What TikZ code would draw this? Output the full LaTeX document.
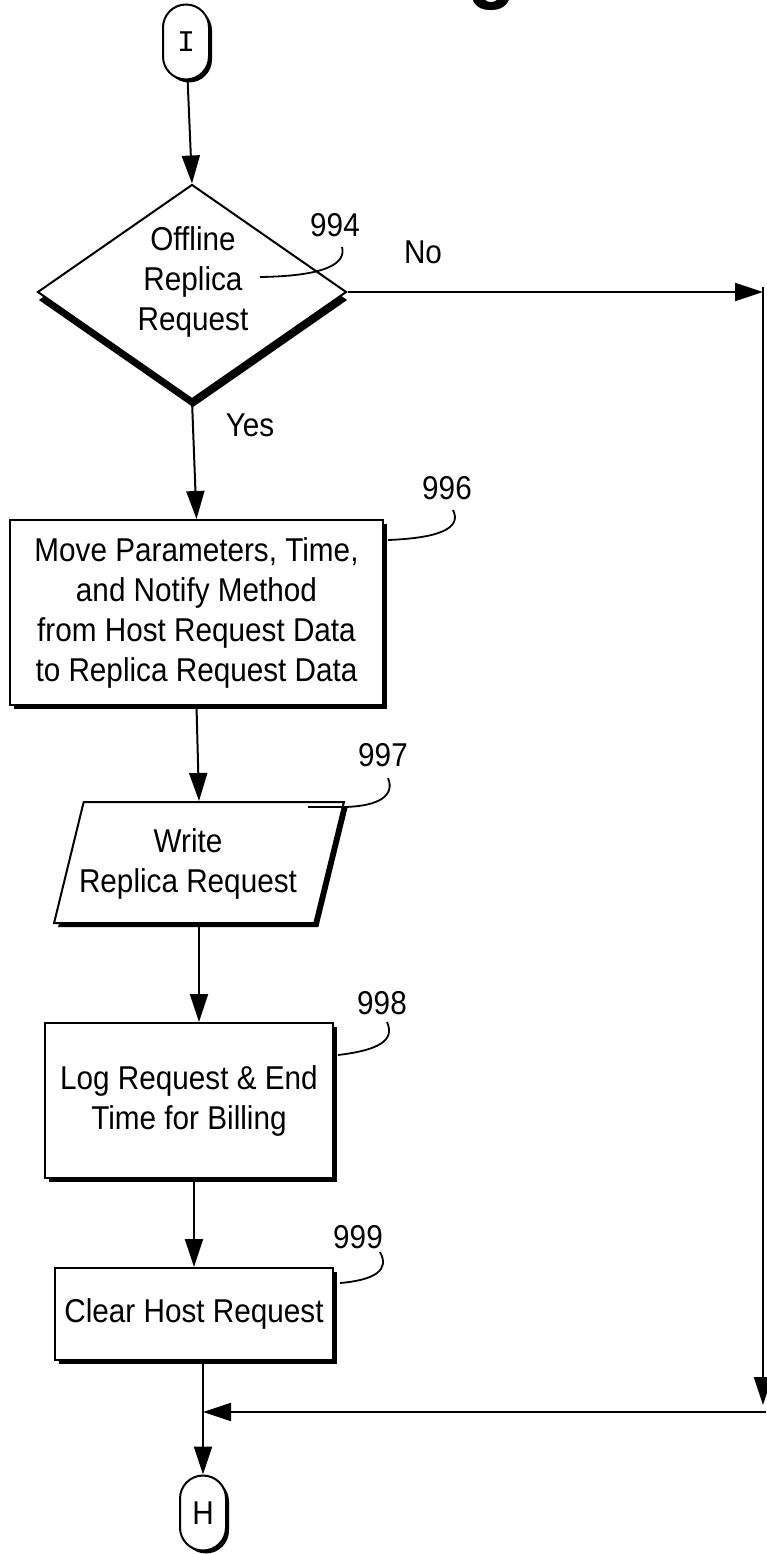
\documentclass[tikz,border=0pt]{standalone}
\usepackage{fontspec}
\setmainfont{Liberation Sans}[FakeStretch=0.9]
\newfontfamily\monof{Liberation Mono}
\usetikzlibrary{shapes.geometric,shapes.misc,shadows,arrows.meta}
\begin{document}
\begin{tikzpicture}[x=1pt,y=-1pt,
  txt/.style={font=\fontsize{33}{40}\selectfont, align=center, inner sep=0pt},
  shad/.style={drop shadow={shadow xshift=4pt,shadow yshift=-4pt,opacity=1,fill=black}},
  procbox/.style={draw, line width=2pt, fill=white, rectangle, shad, txt},
  iobox/.style={draw, line width=2pt, fill=white, trapezium, trapezium left angle=70,
     trapezium right angle=110, trapezium stretches=true, shad, txt},
  decbox/.style={draw, line width=2pt, fill=white, diamond, inner sep=0pt,
     drop shadow={shadow xshift=1pt,shadow yshift=-8pt,opacity=1,fill=black}},
  term/.style={draw, line width=2pt, fill=white, rounded corners=23pt, inner sep=0pt,
     minimum width=46pt, minimum height=75pt,
     drop shadow={shadow xshift=3pt,shadow yshift=-3pt,opacity=1,fill=black}},
  arr/.style={line width=2pt, -{Triangle[length=28pt,width=18pt]}},
  lead/.style={line width=1.8pt},
  lbl/.style={txt}
]
\useasboundingbox (0,0) rectangle (767,1554);

% cut-off title
\node[anchor=base west, inner sep=0pt, font=\fontsize{90}{90}\selectfont\bfseries] (title) at (395,-8) {Fig};

% nodes
\node[term, font=\monof\fontsize{30}{30}\selectfont] (I) at (186,42) {I};
\node[decbox, minimum width=309pt, minimum height=215pt] (d) at (192,292) {};
\node[txt] (dt) at (193,282) {Offline\\Replica\\Request};
\node[procbox, minimum width=373pt, minimum height=185pt] (b996) at (196.5,612.5)
  {Move Parameters, Time,\\and Notify Method\\from Host Request Data\\to Replica Request Data};
\node[iobox, minimum width=292pt, minimum height=121pt] (p997) at (199,862.5) {\phantom{Write}};
\node[txt] (p997t) at (188,864) {Write\\Replica Request};
\node[procbox, minimum width=288pt, minimum height=155pt] (b998) at (189,1100.5)
  {Log Request \& End\\Time for Billing};
\node[procbox, minimum width=278pt, minimum height=92pt] (b999) at (194,1314)
  {Clear Host Request};
\node[term, txt, minimum width=46pt, minimum height=75pt] (H) at (203,1513) {H};

% labels
\node[lbl] (l994) at (335,225) {994};
\node[lbl] (lno) at (423,252) {No};
\node[lbl] (lyes) at (250,425) {Yes};
\node[lbl] (l996) at (447,488) {996};
\node[lbl] (l997) at (383,755) {997};
\node[lbl] (l998) at (382,1003) {998};
\node[lbl] (l999) at (358,1237) {999};

% coordinates for the No branch
\coordinate (r1) at (763,287);
\coordinate (r2) at (763,1405);
\coordinate (r3) at (766,1412);
\coordinate (j) at (203,1412);

% connectors
\draw[arr] (I) -- (d.north);
\draw[arr] (d.south) -- (b996.north);
\draw[arr] (b996.south) -- (p997.north);
\draw[arr] (p997.south) -- (p997.south |- b998.north);
\draw[arr] (b999.north |- b998.south) -- (b999.north);
\draw[arr] (H.north |- b999.south) -- (H.north);
\draw[arr] (d.east) -- (d.east -| r1);
\draw[line width=2pt] (d.east -| r1) -- (r1);
\draw[arr] (r1) -- (r2);
\draw[arr] (r3) -- (j);

% leaders
\draw[lead] (260,277) .. controls (330,276) and (346,262) .. (342,247);
\draw[lead] (388,540) .. controls (440,538) and (462,528) .. (453,510);
\draw[lead] (308,807) -- (345,807) .. controls (380,806) and (395,795) .. (388,778);
\draw[lead] (338,1055) .. controls (380,1050) and (395,1040) .. (387,1022);
\draw[lead] (340,1283) .. controls (375,1280) and (390,1270) .. (380,1252);
\end{tikzpicture}
\end{document}
